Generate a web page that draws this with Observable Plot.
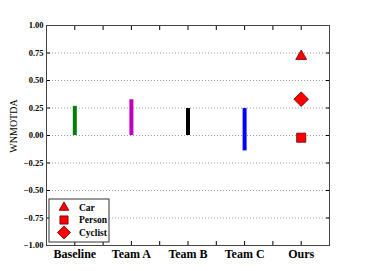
<!DOCTYPE html>
<html><head><meta charset="utf-8">
<script src="https://cdn.jsdelivr.net/npm/d3@7"></script>
<script src="https://cdn.jsdelivr.net/npm/@observablehq/plot@0.6"></script>
<style>
body{margin:0;background:#fff}
</style></head><body><div id="chart"></div>
<script>
const categories = ["Baseline", "Team A", "Team B", "Team C", "Ours"];
const barCategories = ["Baseline", "Team A", "Team B", "Team C"];
const barLow = [0, 0, 0, -0.14];
const barHigh = [0.265, 0.325, 0.245, 0.245];
const barColors = ["#008000", "#bf00bf", "#000000", "#0000ff"];
const oursClasses = ["Car", "Person", "Cyclist"];
const oursValues = [0.72, -0.02, 0.33];
const classSymbols = ["triangle2", "square2", "diamond2"];
const yTicks = [-1, -0.75, -0.5, -0.25, 0, 0.25, 0.5, 0.75, 1];
const yLabel = "WNMOTDA";

const serif = "'Liberation Serif', 'Times New Roman', Times, serif";
const pos = c => categories.indexOf(c) + 0.5;
const bars = barCategories.map((c, i) => ({cat: c, x: pos(c), low: barLow[i], high: barHigh[i]}));
const ours = oursClasses.map((c, i) => ({cls: c, x: pos("Ours"), v: oursValues[i]}));
const xMinorTicks = d3.range(0.5, categories.length, 0.5);
const xLabelTicks = categories.map(pos);
const symSize = {Car: 5.2, Person: 5.8, Cyclist: 6.6};

const chart = Plot.plot({
  width: 366, height: 271,
  marginLeft: 46, marginRight: 37, marginTop: 25, marginBottom: 26,
  style: {fontFamily: serif, fontWeight: "bold", fontSize: "8.5px", background: "#fff"},
  x: {type: "linear", domain: [0, categories.length]},
  y: {domain: [-1, 1]},
  color: {domain: barCategories, range: barColors},
  symbol: {domain: oursClasses, range: classSymbols},
  r: {type: "identity"},
  marks: [
    Plot.gridY(yTicks, {stroke: "#999", strokeOpacity: 1, strokeDasharray: "1,2"}),
    Plot.axisY(yTicks, {anchor: "left", tickSize: 0, tickPadding: 3, tickFormat: d3.format(".2f"), label: null, fontSize: 8.5}),
    Plot.axisY(yTicks, {anchor: "left", tickSize: -4, tickFormat: () => "", label: null}),
    Plot.axisY(yTicks, {anchor: "right", tickSize: -4, tickFormat: () => "", label: null}),
    Plot.axisX(xMinorTicks, {anchor: "bottom", tickSize: -4, tickFormat: () => "", label: null}),
    Plot.axisX(xMinorTicks, {anchor: "top", tickSize: -4, tickFormat: () => "", label: null}),
    Plot.axisX(xLabelTicks, {anchor: "bottom", tickSize: 0, tickPadding: 4, tickFormat: d => categories[Math.round(d - 0.5)], label: null, fontSize: 12}),
    Plot.ruleX(bars, {x: "x", y1: "low", y2: "high", stroke: "cat", strokeWidth: 4}),
    Plot.dot(ours, {x: "x", y: "v", symbol: "cls", r: d => symSize[d.cls], fill: "#ff0000", stroke: "#600", strokeWidth: 0.8}),
    Plot.frame({stroke: "#444"})
  ]
});
document.getElementById("chart").append(chart);

const svg = d3.select(chart);
svg.append("text")
  .attr("transform", "translate(15,126) rotate(-90)")
  .attr("text-anchor", "middle").attr("dominant-baseline", "middle")
  .style("font-family", serif).style("font-weight", "normal").style("font-size", "10px")
  .attr("fill", "#000").text(yLabel);

const lg = svg.append("g").attr("transform", "translate(49,199)");
lg.append("rect").attr("width", 60).attr("height", 43).attr("fill", "#fff").attr("stroke", "#333").attr("stroke-width", 1);
const d3Sym = {Car: d3.symbolTriangle2, Person: d3.symbolSquare2, Cyclist: d3.symbolDiamond2};
oursClasses.forEach((c, i) => {
  const yy = 8.5 + i * 12.5;
  lg.append("path").attr("d", d3.symbol(d3Sym[c], Math.PI * symSize[c] * symSize[c] * 0.8)())
    .attr("transform", `translate(15,${yy})`).attr("fill", "#ff0000").attr("stroke", "#600").attr("stroke-width", 0.8);
  lg.append("text").attr("x", 30).attr("y", yy).attr("dy", "0.35em")
    .attr("text-anchor", "start")
    .style("font-family", serif).style("font-weight", "bold").style("font-size", "9.5px").attr("fill", "#000").text(c);
});
</script></body></html>
